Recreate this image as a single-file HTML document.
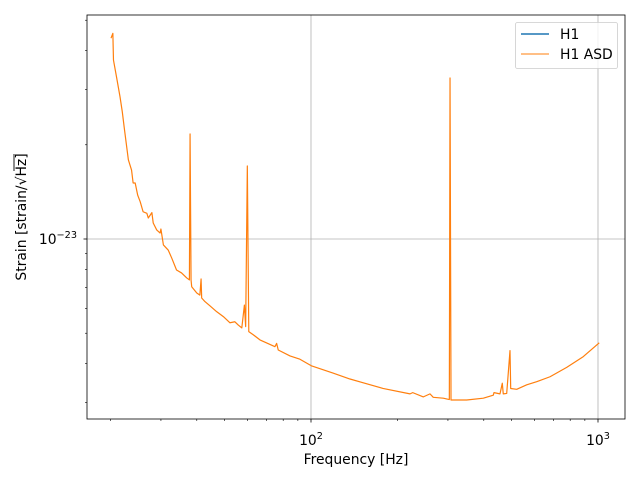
<!DOCTYPE html>
<html><head><meta charset="utf-8"><style>
body{margin:0;background:#fff;}
svg{display:block;font-family:"DejaVu Sans","Liberation Sans",sans-serif;}
</style></head><body>
<svg id="chart" width="640" height="480" viewBox="0 0 640 480">
<rect x="0" y="0" width="640" height="480" fill="#fff"/>
</svg>
<script>
const freqs=[20.1,20.4,20.5,21.0,21.6,22.0,22.4,23.1,23.7,24.0,24.4,24.9,25.4,26.0,26.8,27.1,27.9,28.2,29.0,29.8,30.0,30.6,31.8,32.7,34.0,35.4,36.9,37.7,37.9,38.2,38.4,40.0,41.0,41.4,41.6,42.7,44.5,46.9,49.5,52.2,54.3,55.8,57.4,58.6,59.2,60.0,60.7,63.0,66.4,74.9,75.9,76.9,84.5,91.5,100.6,119.3,136.7,178.2,221.3,226.2,246.3,259.8,266.7,289.1,303.4,305.1,307.5,348.8,398.5,431.7,434.1,455.5,464.0,467.7,480.7,493.6,496.4,520.9,564.5,611.5,680.6,778.0,888.9,1010];
const asd=[4.38,4.54,3.73,3.30,2.85,2.55,2.23,1.79,1.66,1.51,1.51,1.38,1.316,1.222,1.208,1.167,1.214,1.125,1.069,1.045,1.076,0.957,0.922,0.870,0.796,0.779,0.751,0.740,2.166,0.740,0.704,0.672,0.662,0.745,0.648,0.631,0.611,0.586,0.565,0.540,0.544,0.531,0.520,0.615,0.525,1.711,0.506,0.494,0.476,0.453,0.464,0.442,0.423,0.413,0.393,0.373,0.357,0.333,0.320,0.323,0.313,0.320,0.312,0.310,0.307,3.27,0.306,0.306,0.310,0.317,0.323,0.320,0.346,0.320,0.321,0.440,0.333,0.331,0.342,0.350,0.363,0.389,0.421,0.466]; // units of 1e-23
const xMajor=[100,1000];
const xMajorLabels=["2","3"];
const xMinor=[20,30,40,50,60,70,80,90,200,300,400,500,600,700,800,900];
const yMinor=[0.3,0.4,0.5,0.6,0.7,0.8,0.9,2,3,4,5];
const seriesNames=["H1","H1 ASD"];

const NS="http://www.w3.org/2000/svg";
const svg=document.getElementById('chart');
const L=87,R=625,T=15,B=419;
function xs(f){return 311+287*(Math.log10(f)-2);}
function ys(v){return 239-313*Math.log10(v);}
function mk(tag,attrs,parent){const e=document.createElementNS(NS,tag);for(const k in attrs)e.setAttribute(k,attrs[k]);(parent||svg).appendChild(e);return e;}

xMajor.forEach(f=>{const g=mk('line',{x1:xs(f),x2:xs(f),y1:T,y2:B,stroke:'#b0b0b0','stroke-width':0.8});

});
{const g=mk('line',{x1:L,x2:R,y1:ys(1),y2:ys(1),stroke:'#b0b0b0','stroke-width':0.8});

}

const clip=mk('clipPath',{id:'pc'});mk('rect',{x:L,y:T,width:R-L,height:B-T},clip);
const pts=freqs.map((f,i)=>xs(f).toFixed(2)+','+ys(asd[i]).toFixed(2)).join(' ');
const line=mk('polyline',{points:pts,fill:'none',stroke:'#ff7f0e','stroke-width':1.2,'stroke-linejoin':'round','clip-path':'url(#pc)'});



const fr=mk('rect',{x:L,y:T,width:R-L,height:B-T,fill:'none',stroke:'#000','stroke-width':0.8});



xMajor.forEach((f,i)=>{const x=xs(f);mk('line',{x1:x,x2:x,y1:B,y2:B+3.5,stroke:'#000','stroke-width':0.8});
const t=mk('text',{x:x,y:B+26,'text-anchor':'middle','font-size':'13.9px',fill:'#000'});


t.textContent='10';const s=mk('tspan',{dy:-6,'font-size':'9.7px'},t);s.textContent=xMajorLabels[i];});
xMinor.forEach(f=>{const x=xs(f);mk('line',{x1:x,x2:x,y1:B,y2:B+2,stroke:'#000','stroke-width':0.6});});
mk('line',{x1:L-3.5,x2:L,y1:ys(1),y2:ys(1),stroke:'#000','stroke-width':0.8});
yMinor.forEach(v=>{const y=ys(v);mk('line',{x1:L-2,x2:L,y1:y,y2:y,stroke:'#000','stroke-width':0.6});});
{const t=mk('text',{x:L-10,y:ys(1)+5,'text-anchor':'end','font-size':'13.9px',fill:'#000'});


t.textContent='10';const s=mk('tspan',{dy:-6,'font-size':'9.7px'},t);s.textContent='−23';}

{const t=mk('text',{x:356,y:464,'text-anchor':'middle','font-size':'13.9px',fill:'#000'});


t.textContent='Frequency [Hz]';}
{const g=mk('g',{transform:'translate(26,217) rotate(-90)'});


const t=mk('text',{x:0,y:0,'text-anchor':'middle','font-size':'13.9px',fill:'#000'},g);
t.textContent='Strain [strain/√Hz]';
mk('line',{x1:46,x2:63,y1:-12,y2:-12,stroke:'#000','stroke-width':0.9},g);}

const lg=mk('g',{});


mk('rect',{x:515.5,y:22.5,width:102,height:46,rx:2,fill:'#fff','fill-opacity':0.8,stroke:'#ccc','stroke-width':0.8},lg);
const lcol=['#1f77b4','#ff7f0e'],lw=[1.5,1.1];
seriesNames.forEach((n,i)=>{const y=34+i*20;
const e=mk('g',{},lg);


mk('line',{x1:521,x2:549,y1:y,y2:y,stroke:lcol[i],'stroke-width':lw[i]},e);
const t=mk('text',{x:560,y:y+5,'font-size':'13.9px',fill:'#000'},e);t.textContent=n;});
</script>
</body></html>
